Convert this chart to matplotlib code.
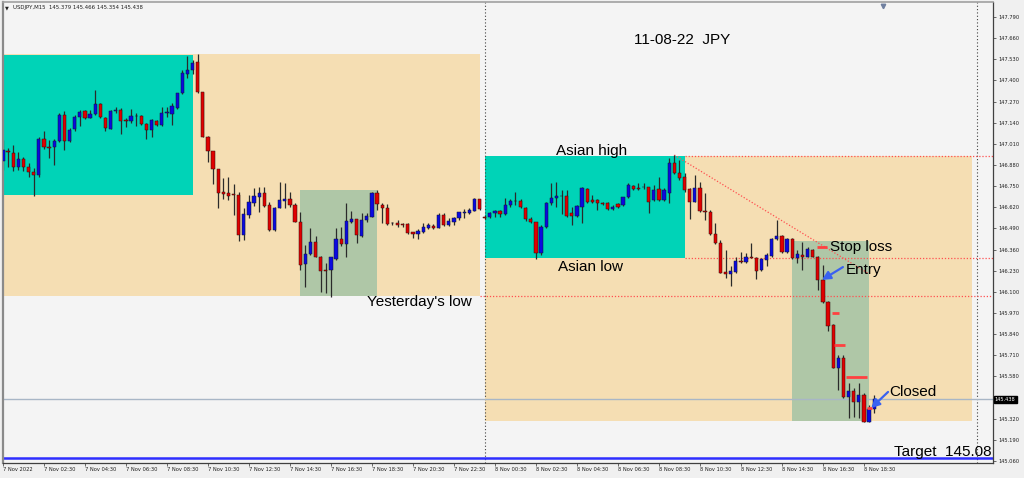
import numpy as np
import matplotlib
matplotlib.use('Agg')
import matplotlib.pyplot as plt
from matplotlib.patches import Rectangle
import matplotlib.transforms as mtransforms

# ---------------- data (USDJPY M15, bar index 0 = 7 Nov 00:00) ----------------
first_bar = 2
opens = [146.906, 146.962, 146.951, 146.869, 146.917, 146.869, 146.839, 146.818, 147.038, 146.992,
         146.992, 147.027, 147.187, 147.029, 147.099, 147.177, 147.210, 147.171, 147.193, 147.257,
         147.169, 147.101, 147.212, 147.218, 147.155, 147.150, 147.180, 147.179, 147.130, 147.093,
         147.150, 147.126, 147.200, 147.193, 147.228, 147.320, 147.439, 147.464, 147.511, 147.327,
         147.054, 146.966, 146.853, 146.712, 146.710, 146.698, 146.697, 146.449, 146.572, 146.644,
         146.685, 146.705, 146.632, 146.480, 146.617, 146.660, 146.669, 146.636, 146.531, 146.269,
         146.332, 146.404, 146.316, 146.232, 146.234, 146.302, 146.425, 146.394, 146.531, 146.546,
         146.443, 146.539, 146.562, 146.705, 146.634, 146.613, 146.521, 146.525, 146.512, 146.517,
         146.466, 146.455, 146.470, 146.494, 146.507, 146.494, 146.572, 146.511, 146.529, 146.556,
         146.586, 146.583, 146.599, 146.669, 146.558, 146.558, 146.582, 146.597, 146.578, 146.634,
         146.658, 146.658, 146.613, 146.548, 146.527, 146.336, 146.496, 146.644, 146.679, 146.689,
         146.689, 146.582, 146.566, 146.623, 146.730, 146.664, 146.664, 146.648, 146.648, 146.609,
         146.640, 146.632, 146.681, 146.753, 146.737, 146.742, 146.742, 146.664, 146.730, 146.664,
         146.706, 146.890, 146.828, 146.804, 146.730, 146.654, 146.740, 146.597, 146.593, 146.455,
         146.398, 146.220, 146.207, 146.224, 146.291, 146.281, 146.312, 146.306, 146.234, 146.296,
         146.322, 146.423, 146.445, 146.343, 146.425, 146.306, 146.326, 146.316, 146.357, 146.316,
         146.172, 146.039, 145.896, 145.633, 145.691, 145.451, 145.492, 145.424, 145.465, 145.301,
         145.379]
highs = [147.034, 146.982, 147.003, 146.962, 146.931, 146.890, 146.859, 147.054, 147.091, 147.034,
         147.038, 147.202, 147.214, 147.105, 147.187, 147.218, 147.218, 147.218, 147.341, 147.263,
         147.177, 147.218, 147.239, 147.228, 147.167, 147.222, 147.197, 147.187, 147.136, 147.161,
         147.156, 147.239, 147.239, 147.259, 147.325, 147.464, 147.550, 147.525, 147.562, 147.331,
         147.060, 146.968, 146.856, 146.798, 146.808, 146.763, 146.716, 146.613, 146.695, 146.736,
         146.746, 146.746, 146.654, 146.623, 146.777, 146.767, 146.716, 146.644, 146.593, 146.388,
         146.490, 146.443, 146.318, 146.279, 146.316, 146.490, 146.500, 146.648, 146.599, 146.548,
         146.587, 146.587, 146.716, 146.726, 146.648, 146.640, 146.531, 146.541, 146.525, 146.525,
         146.470, 146.484, 146.525, 146.525, 146.517, 146.582, 146.582, 146.552, 146.562, 146.593,
         146.609, 146.613, 146.675, 146.673, 146.572, 146.593, 146.603, 146.603, 146.675, 146.669,
         146.716, 146.669, 146.623, 146.558, 146.531, 146.511, 146.654, 146.771, 146.777, 146.726,
         146.726, 146.623, 146.632, 146.746, 146.736, 146.695, 146.669, 146.654, 146.654, 146.634,
         146.644, 146.685, 146.767, 146.757, 146.767, 146.767, 146.746, 146.757, 146.808, 146.736,
         146.921, 146.941, 146.911, 146.828, 146.736, 146.818, 146.777, 146.706, 146.603, 146.521,
         146.418, 146.357, 146.259, 146.316, 146.347, 146.336, 146.398, 146.312, 146.306, 146.336,
         146.429, 146.541, 146.449, 146.429, 146.429, 146.357, 146.408, 146.377, 146.361, 146.320,
         146.265, 146.045, 145.900, 145.711, 145.711, 145.537, 145.506, 145.537, 145.475, 145.404,
         145.466]
lows = [146.849, 146.869, 146.845, 146.849, 146.845, 146.808, 146.689, 146.808, 146.976, 146.921,
        146.880, 147.023, 146.972, 147.023, 147.091, 147.120, 147.163, 147.167, 147.187, 147.169,
        147.091, 147.099, 147.197, 147.070, 147.115, 147.136, 147.120, 147.126, 147.038, 147.054,
        147.120, 147.120, 147.173, 147.126, 147.224, 147.316, 147.413, 147.437, 147.325, 147.050,
        146.900, 146.763, 146.617, 146.669, 146.664, 146.572, 146.414, 146.418, 146.552, 146.628,
        146.593, 146.623, 146.476, 146.476, 146.613, 146.613, 146.623, 146.527, 146.234, 146.127,
        146.326, 146.312, 146.101, 146.090, 146.070, 146.295, 146.382, 146.312, 146.521, 146.398,
        146.435, 146.531, 146.558, 146.603, 146.521, 146.511, 146.511, 146.500, 146.500, 146.455,
        146.429, 146.425, 146.459, 146.486, 146.484, 146.490, 146.507, 146.505, 146.509, 146.541,
        146.552, 146.578, 146.595, 146.603, 146.546, 146.552, 146.562, 146.558, 146.572, 146.623,
        146.634, 146.613, 146.537, 146.521, 146.300, 146.326, 146.490, 146.634, 146.623, 146.578,
        146.562, 146.511, 146.562, 146.521, 146.648, 146.644, 146.603, 146.634, 146.603, 146.603,
        146.613, 146.628, 146.675, 146.726, 146.726, 146.730, 146.582, 146.658, 146.660, 146.660,
        146.648, 146.822, 146.788, 146.716, 146.548, 146.650, 146.593, 146.542, 146.449, 146.394,
        146.214, 146.183, 146.138, 146.218, 146.275, 146.275, 146.306, 146.177, 146.230, 146.259,
        146.316, 146.418, 146.341, 146.341, 146.302, 146.275, 146.234, 146.312, 146.312, 146.111,
        146.029, 145.861, 145.629, 145.496, 145.445, 145.322, 145.332, 145.322, 145.297, 145.297,
        145.354]
closes = [146.972, 146.960, 146.865, 146.917, 146.869, 146.835, 146.818, 147.040, 146.988, 146.984,
          147.029, 147.187, 147.027, 147.095, 147.177, 147.208, 147.171, 147.193, 147.257, 147.173,
          147.105, 147.210, 147.216, 147.150, 147.152, 147.179, 147.182, 147.132, 147.093, 147.156,
          147.126, 147.202, 147.204, 147.243, 147.320, 147.443, 147.464, 147.509, 147.327, 147.054,
          146.968, 146.853, 146.705, 146.703, 146.691, 146.697, 146.449, 146.578, 146.650, 146.689,
          146.705, 146.630, 146.480, 146.617, 146.664, 146.668, 146.634, 146.531, 146.265, 146.330,
          146.406, 146.316, 146.228, 146.230, 146.312, 146.425, 146.394, 146.535, 146.546, 146.449,
          146.541, 146.566, 146.705, 146.640, 146.613, 146.517, 146.525, 146.509, 146.510, 146.459,
          146.453, 146.476, 146.500, 146.511, 146.494, 146.572, 146.511, 146.535, 146.556, 146.589,
          146.589, 146.603, 146.671, 146.607, 146.556, 146.587, 146.597, 146.578, 146.634, 146.658,
          146.656, 146.619, 146.546, 146.527, 146.336, 146.500, 146.644, 146.679, 146.689, 146.687,
          146.568, 146.566, 146.630, 146.736, 146.654, 146.654, 146.648, 146.640, 146.607, 146.623,
          146.623, 146.681, 146.757, 146.730, 146.735, 146.744, 146.654, 146.726, 146.664, 146.726,
          146.890, 146.828, 146.802, 146.726, 146.654, 146.740, 146.597, 146.589, 146.453, 146.398,
          146.218, 146.207, 146.228, 146.289, 146.281, 146.312, 146.310, 146.230, 146.300, 146.326,
          146.423, 146.445, 146.343, 146.425, 146.306, 146.330, 146.316, 146.361, 146.316, 146.172,
          146.039, 145.892, 145.633, 145.691, 145.455, 145.492, 145.424, 145.465, 145.301, 145.379,
          145.438]

price_ticks = [147.790, 147.660, 147.530, 147.400, 147.270, 147.140, 147.010, 146.880, 146.750,
               146.620, 146.490, 146.360, 146.230, 146.100, 145.970, 145.840, 145.710, 145.580,
               145.320, 145.190, 145.060]
time_tick_bars = [2, 10, 18, 26, 34, 42, 50, 58, 66, 74, 82, 90, 98, 106, 114, 122, 130, 138,
                  146, 154, 162, 170]
time_tick_labels = ['7 Nov 2022', '7 Nov 02:30', '7 Nov 04:30', '7 Nov 06:30', '7 Nov 08:30',
                    '7 Nov 10:30', '7 Nov 12:30', '7 Nov 14:30', '7 Nov 16:30', '7 Nov 18:30',
                    '7 Nov 20:30', '7 Nov 22:30', '8 Nov 00:30', '8 Nov 02:30', '8 Nov 04:30',
                    '8 Nov 06:30', '8 Nov 08:30', '8 Nov 10:30', '8 Nov 12:30', '8 Nov 14:30',
                    '8 Nov 16:30', '8 Nov 18:30']

# session boxes: (start bar, end bar, top price, bottom price)
day_boxes = [(0, 95, 147.562, 146.074), (96, 191, 146.932, 145.305)]
asian_boxes = [(0, 39, 147.556, 146.695), (96, 135, 146.932, 146.306)]
london_boxes = [(60, 75, 146.726, 146.074), (156, 171, 146.412, 145.305)]

asian_high = 146.935
asian_low = 146.306
yesterday_low = 146.074
level_start_bars = [135, 135, 95]
trend_bars = [133, 171]
trend_prices = [146.941, 146.210]
current_price = 145.438
target_price = 145.080
separator_bars = [96, 192]

stop_start = [160.8, 163.8, 164.2, 166.5, 170.6]
stop_end = [162.8, 165.1, 166.3, 170.6, 171.6]
stop_price = [146.377, 145.971, 145.773, 145.574, 145.387]

header = 'USDJPY,M15  145.379 145.466 145.354 145.438'

# ---------------- figure ----------------
W, H = 1024, 478
fig = plt.figure(figsize=(W / 100, H / 100), dpi=100)
fig.patch.set_facecolor('#F0F0F0')
ax_l, ax_r, ax_t, ax_b = 2.5, 993.3, 2.0, 462.7
ax = fig.add_axes([ax_l / W, 1 - ax_b / H, (ax_r - ax_l) / W, (ax_b - ax_t) / H])
ax.set_facecolor('#F4F4F4')
ax.set_xlim(1.912, 195.24)
ax.set_ylim(145.049, 147.882)

xmax = ax.get_xlim()[1]

for (s, e, t, b) in day_boxes:
    ax.add_patch(Rectangle((s, b), e - s, t - b, facecolor='#F5DEB3', edgecolor='none', zorder=1))
for (s, e, t, b) in asian_boxes:
    ax.add_patch(Rectangle((s, b), e - s, t - b, facecolor='#00D3B7', edgecolor='none', zorder=1.1))
for (s, e, t, b) in london_boxes:
    ax.add_patch(Rectangle((s, b), e - s, t - b, facecolor='#AFC7A7', edgecolor='none', zorder=1.2))

# separators
for sb in separator_bars:
    ax.axvline(sb, color='#404040', lw=0.8, ls=(0, (1, 2)), zorder=1.5)

# levels
for lv, sb in zip([asian_high, asian_low, yesterday_low], level_start_bars):
    ax.plot([sb, xmax], [lv, lv], color='#FF5050', lw=0.9, ls=(0, (1, 1.5)), zorder=1.6)
ax.plot(trend_bars, trend_prices, color='#FF5050', lw=0.9, ls=(0, (1, 1.5)), zorder=1.6)
ax.axhline(current_price, color='#A8B6C6', lw=1.0, zorder=1.7)
ax.axhline(target_price, color='#2E2EFF', lw=1.8, zorder=1.7)

# candles
n = len(opens)
x = np.arange(first_bar, first_bar + n)
o = np.array(opens); c = np.array(closes); hi = np.array(highs); lo = np.array(lows)
ax.vlines(x, lo, hi, color='#2A2A2A', lw=0.9, zorder=2)
bull = c >= o
body_b = np.minimum(o, c)
body_h = np.maximum(np.abs(c - o), 0.004)
ax.bar(x[bull], body_h[bull], bottom=body_b[bull], width=0.62, color='#0A0AE0',
       edgecolor='#15152a', linewidth=0.35, zorder=3)
ax.bar(x[~bull], body_h[~bull], bottom=body_b[~bull], width=0.62, color='#E00000',
       edgecolor='#2a1010', linewidth=0.35, zorder=3)

# stop markers
for s, e, p in zip(stop_start, stop_end, stop_price):
    ax.plot([s, e], [p, p], color='#FF4040', lw=2.0, solid_capstyle='butt', zorder=4)

# texts
tf = dict(family='Liberation Sans', fontsize=11, color='black', zorder=6)
ax.text(134.5, 147.649, '11-08-22  JPY', ha='center', va='center', **tf)
ax.text(109.9, 146.968, 'Asian high', ha='left', va='center', **tf)
ax.text(110.3, 146.252, 'Asian low', ha='left', va='center', **tf)
ax.text(73.0, 146.040, "Yesterday's low", ha='left', va='center', **tf)
ax.text(163.4, 146.376, 'Stop loss', ha='left', va='center', **tf)
ax.text(166.4, 146.237, 'Entry', ha='left', va='center', **tf)
ax.text(174.9, 145.482, 'Closed', ha='left', va='center', **tf)
ax.text(195.0, 145.117, 'Target  145.08', ha='right', va='center', **tf)

arrow = dict(arrowstyle='-|>,head_length=0.5,head_width=0.25', color='#3A62F0', lw=1.6,
             shrinkA=0, shrinkB=0)
ax.annotate('', xy=(161.8, 146.173), xytext=(165.9, 146.252), arrowprops=arrow, zorder=6)
ax.annotate('', xy=(171.4, 145.385), xytext=(174.7, 145.484), arrowprops=arrow, zorder=6)

# axes styling
ax.yaxis.tick_right()
ax.set_yticks(price_ticks)
ax.set_yticklabels(['%.3f' % v for v in price_ticks])
ax.set_xticks(time_tick_bars)
ax.set_xticklabels(time_tick_labels, ha='left')
ax.tick_params(axis='y', labelsize=3.7, length=2.5, width=0.6, color='#505050', pad=1.5,
               labelcolor='#202020')
ax.tick_params(axis='x', labelsize=3.7, length=2.2, width=0.6, color='#505050', pad=1.0,
               labelcolor='#202020')
for lbl in ax.get_xticklabels() + ax.get_yticklabels():
    lbl.set_family('DejaVu Sans')

for side in ['right', 'bottom']:
    ax.spines[side].set_color('#404040')
    ax.spines[side].set_linewidth(0.9)
ax.spines['left'].set_color('#8A8A8A')
ax.spines['left'].set_linewidth(1.6)
ax.spines['top'].set_color('#A0A0A0')
ax.spines['top'].set_linewidth(1.2)

# current price label on axis
trans = mtransforms.blended_transform_factory(ax.transAxes, ax.transData)
ax.text(1.0015, current_price, '%.3f' % current_price, transform=trans, ha='left', va='center',
        fontsize=3.7, family='DejaVu Sans', color='white', clip_on=False, zorder=7,
        bbox=dict(facecolor='black', edgecolor='black', pad=0.9))

# chart shift marker
ax.plot([173.7], [0.992], marker='v', color='#7080A0', markersize=3.2,
        transform=mtransforms.blended_transform_factory(ax.transData, ax.transAxes),
        clip_on=False, zorder=7)

# header
fig.text(5 / W, 1 - 7.5 / H, '\u25bc', fontsize=3.6, family='DejaVu Sans', color='#202020',
         va='center', ha='left')
fig.text(12.7 / W, 1 - 7.5 / H, header, fontsize=3.9, family='DejaVu Sans', color='#202020',
         va='center', ha='left')

fig.savefig('out.png', dpi=100, facecolor=fig.get_facecolor())
